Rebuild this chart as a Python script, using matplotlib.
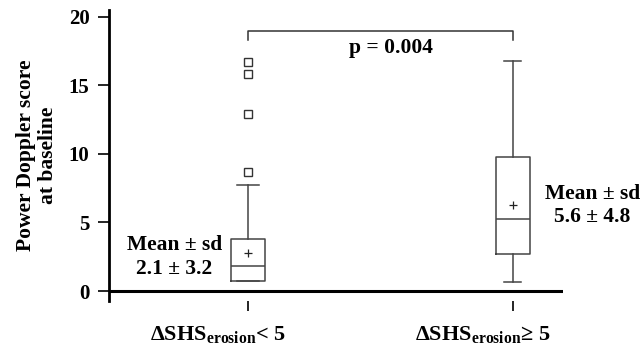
import matplotlib
matplotlib.use("Agg")
import matplotlib.pyplot as plt
import matplotlib.transforms as mtransforms

# Box statistics
groups = [r"ΔSHS$_{\mathregular{erosion}}$< 5", r"ΔSHS$_{\mathregular{erosion}}$≥ 5"]
q1 = [0.7, 2.7]
median = [1.8, 5.25]
q3 = [3.8, 9.75]
whisker_low = [0.7, 0.65]
whisker_high = [7.7, 16.8]
means = [2.8, 6.3]
outliers = [[8.7, 12.9, 15.8, 16.7], []]
mean_sd_text = ["Mean ± sd\n2.1 ± 3.2", "Mean ± sd\n5.6 ± 4.8"]
p_text = "p = 0.004"
yticks = [0, 5, 10, 15, 20]

plt.rcParams["font.family"] = ["Liberation Serif", "DejaVu Serif"]
plt.rcParams["font.weight"] = "bold"
plt.rcParams["mathtext.fontset"] = "custom"
plt.rcParams["mathtext.rm"] = "Liberation Serif:bold"

fig = plt.figure(figsize=(6.43, 3.49), dpi=100)
ax = fig.add_axes([0.1695, 0.1375, 0.8756 - 0.1695, 0.9713 - 0.1375])

stats = []
for i in range(len(groups)):
    stats.append({
        "q1": q1[i], "med": median[i], "q3": q3[i],
        "whislo": whisker_low[i], "whishi": whisker_high[i],
        "mean": means[i], "fliers": outliers[i],
    })

box_color = "#444444"
ax.bxp(
    stats, positions=[1, 2], widths=0.128, showmeans=True,
    boxprops=dict(color=box_color, linewidth=1.1),
    whiskerprops=dict(color=box_color, linewidth=1.1),
    capprops=dict(color=box_color, linewidth=1.1),
    medianprops=dict(color=box_color, linewidth=1.1),
    meanprops=dict(marker="+", markeredgecolor="#222222", markersize=6, markeredgewidth=0.9),
    flierprops=dict(marker="s", markerfacecolor="white", markeredgecolor="#333333",
                    markersize=5.5, markeredgewidth=1.0),
    capwidths=[0.08, 0.066],
)

ax.set_xlim(0.475, 2.19)
ax.set_ylim(-0.73, 20.5)
ax.axhline(0, color="black", linewidth=2.2, zorder=1)

# significance bracket
ax.plot([1, 1, 2, 2], [18.3, 19.0, 19.0, 18.3], color="#333333", linewidth=1.1)
ax.text(1.539, 17.75, p_text, ha="center", va="center", fontsize=15.5, fontweight="bold")

ax.text(0.722, 2.48, mean_sd_text[0], ha="center", va="center", fontsize=15.5,
        fontweight="bold", linespacing=1.25)
ax.text(2.301, 6.24, mean_sd_text[1], ha="center", va="center", fontsize=15.5,
        fontweight="bold", linespacing=1.25, clip_on=False)

ax.set_yticks(yticks)
ax.set_xticks([1, 2])
ax.set_xticklabels(groups, fontsize=16, fontweight="bold")
ax.tick_params(axis="y", direction="out", length=8, width=1.2, labelsize=15, pad=6)
ax.tick_params(axis="x", direction="out", length=7, width=1.2, pad=10)
# the category labels sit a little left of their ticks in the original
shift = mtransforms.ScaledTranslation(-30 / 100, 0, fig.dpi_scale_trans)
for lbl in ax.get_xticklabels():
    lbl.set_transform(lbl.get_transform() + shift)
ax.set_ylabel("Power Doppler score\nat baseline", fontsize=15.5, fontweight="bold",
              linespacing=1.1, labelpad=8)

ax.spines[["top", "right", "bottom"]].set_visible(False)
ax.spines["left"].set_linewidth(2)

fig.savefig("out.png", dpi=100)
